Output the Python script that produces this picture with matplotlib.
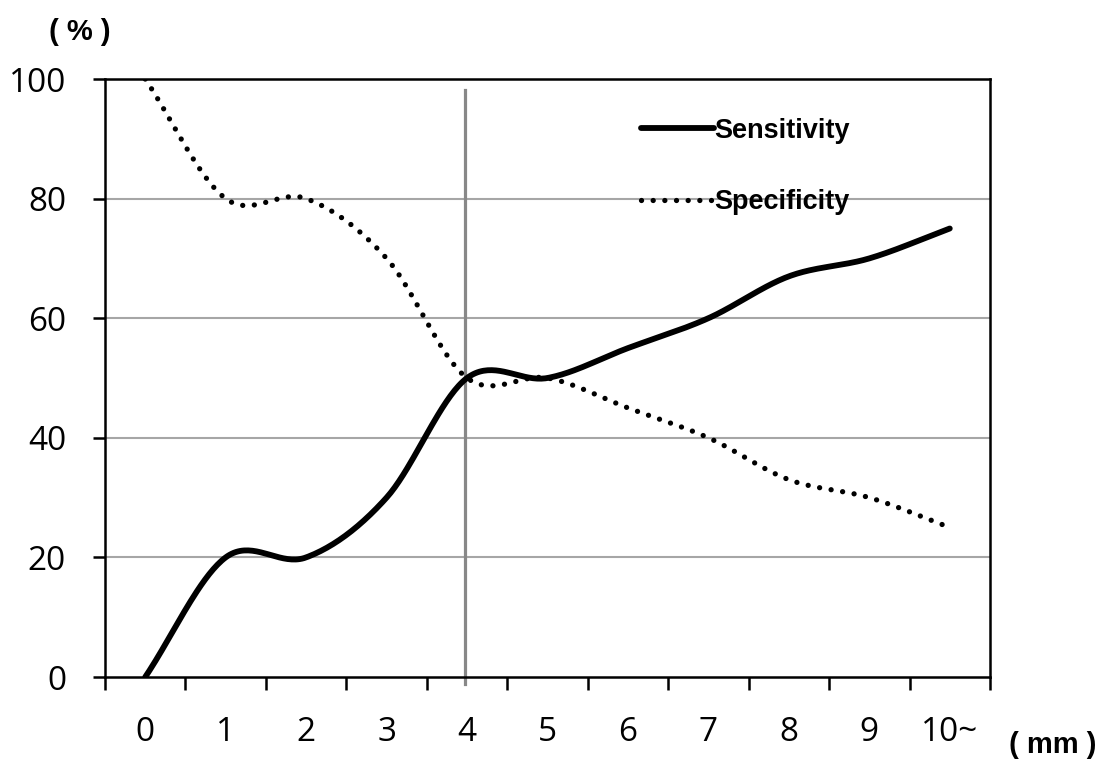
import matplotlib
matplotlib.use("Agg")
import matplotlib.pyplot as plt
import numpy as np

# categories (mm) and the two series (%)
sizes = [0, 1, 2, 3, 4, 5, 6, 7, 8, 9, 10]
size_labels = ["0", "1", "2", "3", "4", "5", "6", "7", "8", "9", "10~"]
sensitivity = [0, 20, 20, 30, 50, 50, 55, 60, 67, 70, 75]
specificity = [100, 80, 80, 70, 50, 50, 45, 40, 33, 30, 25]
cutoff = 4


def smooth(xs, ys, n=40):
    # catmull-rom drawing, like excel's "smoothed line"
    xs = np.asarray(xs, float)
    ys = np.asarray(ys, float)
    px = np.concatenate([[2 * xs[0] - xs[1]], xs, [2 * xs[-1] - xs[-2]]])
    py = np.concatenate([[2 * ys[0] - ys[1]], ys, [2 * ys[-1] - ys[-2]]])
    ox, oy = [], []
    t = np.linspace(0, 1, n)
    for i in range(1, len(px) - 2):
        m0x = (px[i + 1] - px[i - 1]) / 2
        m1x = (px[i + 2] - px[i]) / 2
        m0y = (py[i + 1] - py[i - 1]) / 2
        m1y = (py[i + 2] - py[i]) / 2
        h00 = 2 * t**3 - 3 * t**2 + 1
        h10 = t**3 - 2 * t**2 + t
        h01 = -2 * t**3 + 3 * t**2
        h11 = t**3 - t**2
        ox.extend(h00 * px[i] + h10 * m0x + h01 * px[i + 1] + h11 * m1x)
        oy.extend(h00 * py[i] + h10 * m0y + h01 * py[i + 1] + h11 * m1y)
    return ox, oy


plt.rcParams['font.family'] = ['Open Sans', 'DejaVu Sans']

fig = plt.figure(figsize=(11.06, 7.66), dpi=100)
ax = fig.add_axes([105 / 1106, 1 - 677 / 766, 885 / 1106, 598 / 766])

for v in [20, 40, 60, 80]:
    ax.axhline(v, color='#a6a6a6', lw=1.5, zorder=1)

ax.axvline(cutoff - 0.03, ymin=-0.012, ymax=0.982, color='#888888', lw=2.3,
           clip_on=False, zorder=2)

sx, sy = smooth(sizes, sensitivity)
ax.plot(sx, sy, color='black', lw=4.2, solid_capstyle='round',
        label='Sensitivity', zorder=3)
px_, py_ = smooth(sizes, specificity)
ax.plot(px_, py_, color='black', lw=3.8, linestyle=(0, (0.01, 2.2)),
        dash_capstyle='round', label='Specificity', zorder=3)

ax.set_xlim(-0.5, 10.5)
ax.set_ylim(0, 100)

ax.set_yticks([0, 20, 40, 60, 80, 100])
ax.tick_params(axis='y', length=9, width=1.8, pad=19, labelsize=24)

ax.set_xticks(np.arange(-0.5, 11, 1))
ax.set_xticklabels([])
ax.tick_params(axis='x', which='major', length=9, width=1.8, direction='out')
ax.set_xticks(sizes, minor=True)
ax.set_xticklabels(size_labels, minor=True)
ax.tick_params(axis='x', which='minor', length=0, pad=28, labelsize=24)

for s in ax.spines.values():
    s.set_linewidth(1.8)

leg = ax.legend(loc='upper left', bbox_to_anchor=(0.578, 0.976), frameon=False,
                handlelength=2.7, handletextpad=0.0, labelspacing=1.68,
                prop={'family': 'Liberation Sans', 'weight': 'bold', 'size': 19.5})

fig.text(80 / 1106, 1 - 32 / 766, '( % )', ha='center', va='center',
         fontsize=21, fontweight='bold', family='Liberation Sans')
fig.text(1053 / 1106, 1 - 745 / 766, '( mm )', ha='center', va='center',
         fontsize=21, fontweight='bold', family='Liberation Sans')

fig.savefig('out.png', dpi=100)
